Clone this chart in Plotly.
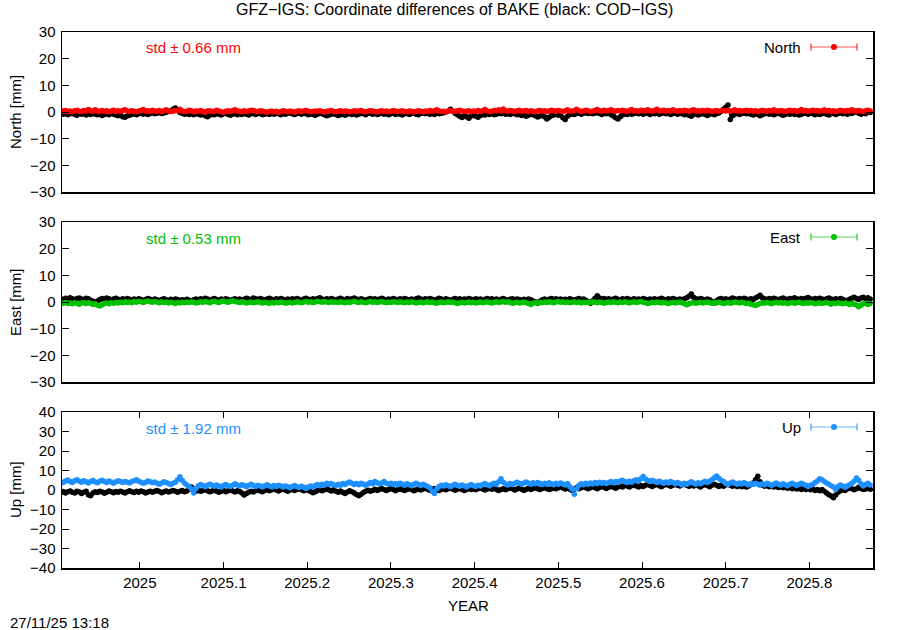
import pandas as pd
import plotly.graph_objects as go

# ---------------- data (mm), daily solutions starting 2024-11-27 ----------------
START_DATE = "2024-11-27"

north_gfz = [
 0.5,0.3,0.6,0.2,0.4,0.1,0.5,0.7,0.3,0.2,0.6,0.4,0.9,0.5,0.3,0.8,0.4,0.2,0.6,0.3,0.5,0.1,0.4,0.7,0.2,0.5,0.3,0.6,0.8,0.4,
 0.2,0.5,0.3,0.1,0.4,0.6,0.9,0.3,0.5,0.2,0.7,0.4,0.3,0.6,0.1,0.5,0.8,0.4,0.2,0.3,0.6,0.5,1.0,0.4,0.2,0.3,0.7,0.5,0.1,0.4,
 0.3,0.6,0.2,-0.1,0.4,0.5,0.2,0.3,0.7,0.4,0.1,-0.2,0.3,0.5,0.2,0.6,0.8,0.4,0.3,0.1,0.5,0.2,0.4,0.7,0.6,0.3,0.2,0.5,0.4,0.1,
 -0.1,0.2,0.4,0.1,0.3,-0.2,0.2,0.5,0.3,0.1,0.4,0.2,-0.1,0.3,0.5,0.2,0.4,0.6,0.3,0.1,0.2,0.4,0.3,0.5,0.2,0.0,0.3,0.4,0.6,0.2,
 0.1,0.3,0.5,0.2,0.4,0.3,0.1,0.2,0.5,0.3,0.4,0.6,0.2,0.1,0.3,0.5,0.4,0.2,0.0,0.3,0.5,0.2,0.4,0.1,0.3,0.6,0.4,0.2,0.3,0.5,
 0.2,0.1,0.4,0.3,0.0,0.2,0.5,0.3,0.1,0.4,0.2,0.6,0.3,0.5,0.8,0.4,0.2,0.3,0.1,0.4,0.6,0.3,0.2,0.5,0.7,0.4,0.2,0.3,0.5,0.1,
 0.4,0.2,0.6,0.3,0.5,0.9,0.4,0.2,0.3,0.6,0.5,0.8,0.4,1.1,0.5,0.3,0.6,0.4,0.2,0.5,0.7,0.3,0.4,0.6,0.2,0.5,0.3,0.1,0.4,0.6,
 0.3,0.5,0.2,0.4,0.7,0.5,0.3,0.6,0.4,0.2,0.5,0.8,0.4,0.3,0.6,1.0,0.5,0.3,0.4,0.7,0.5,0.2,0.4,0.6,0.9,0.5,0.3,0.7,0.4,0.6,
 0.8,0.5,0.3,0.6,0.4,0.7,0.5,0.2,0.6,0.9,0.4,0.5,0.3,0.7,0.6,0.4,0.8,0.5,0.3,0.6,1.0,0.4,0.5,0.7,0.3,0.6,0.4,0.8,0.5,0.3,
 0.6,0.4,0.7,0.5,0.3,0.6,0.8,0.4,0.5,0.3,0.6,0.4,0.7,0.5,0.2,0.4,0.6,0.3,0.5,0.7,0.4,0.6,0.3,0.5,0.8,0.4,0.6,0.3,0.5,0.7,
 0.4,0.6,0.3,0.5,0.2,0.4,0.7,0.5,0.3,0.6,0.4,0.8,0.5,0.3,0.6,0.4,0.2,0.5,0.7,0.4,0.6,0.3,0.5,0.9,0.4,0.6,0.3,0.5,0.7,0.4,
 0.6,0.3,0.5,0.8,0.4,0.6,0.3,0.5,0.2,0.4,0.7,0.5,0.3,0.6,0.4,0.8,0.5,0.3,0.6,0.4,0.2,0.5,0.7,0.4,
]
north_cod = [
 -0.5,-0.8,-0.6,-1.0,-0.7,-0.4,-0.9,-1.2,-0.6,-0.8,-0.5,-1.1,-0.7,-0.9,-0.4,-0.8,-1.0,-0.6,-1.3,-0.9,-0.7,-1.0,-0.5,-0.8,-1.1,-1.4,-1.0,-1.8,-2.0,-1.5,
 -1.2,-0.9,-0.6,-1.0,-0.7,-0.5,-0.8,-0.4,-0.9,-0.6,-0.3,-0.7,-0.5,-0.2,-0.6,-0.4,-0.1,0.2,0.5,1.0,1.5,0.6,-0.2,-0.5,-0.8,-0.6,-0.9,-0.7,-1.0,-0.6,
 -0.8,-1.1,-0.7,-1.4,-1.8,-1.2,-0.9,-1.0,-0.6,-0.8,-1.1,-0.7,-0.5,-0.9,-1.2,-0.8,-0.6,-1.0,-0.7,-0.9,-0.5,-0.8,-1.1,-0.7,-0.6,-0.9,-0.4,-0.7,-1.0,-0.8,
 -0.6,-0.9,-0.5,-0.8,-0.4,-0.7,-1.0,-0.6,-0.8,-0.5,-0.3,-0.7,-0.9,-0.6,-0.4,-0.8,-0.5,-0.7,-1.0,-0.6,-0.9,-1.2,-0.8,-0.5,-0.7,-1.0,-1.4,-1.1,-0.8,-0.6,
 -0.9,-1.3,-1.0,-0.7,-1.2,-0.8,-0.5,-0.9,-0.6,-1.1,-0.8,-0.5,-0.7,-1.0,-0.6,-0.4,-0.8,-0.5,-0.9,-0.7,-0.4,-0.8,-0.6,-1.0,-0.7,-0.5,-0.9,-0.6,-0.8,-1.1,
 -0.7,-0.5,-0.9,-0.6,-0.4,-0.8,-1.0,-0.6,-0.3,-0.7,-0.5,-0.8,-0.6,-0.9,-0.4,-0.7,-0.5,-0.3,0.0,0.4,1.0,0.3,-0.5,-1.0,-1.6,-2.1,-1.4,-1.8,-2.3,-1.5,
 -1.2,-1.6,-2.0,-1.3,-0.9,-1.1,-0.7,-0.9,-0.6,-1.0,-0.8,-0.5,-0.7,-0.4,-0.8,-0.6,-0.9,-0.5,-0.7,-1.0,-0.8,-1.3,-0.9,-1.6,-1.2,-0.8,-1.0,-1.4,-1.9,-1.5,
 -1.2,-1.8,-2.6,-2.0,-1.4,-1.1,-0.8,-1.2,-1.0,-2.2,-2.8,-1.6,-1.0,-0.7,-0.9,-0.6,-0.4,-0.8,-0.5,-0.3,-0.6,-0.4,-0.7,-0.5,-0.2,-0.6,-0.9,-0.5,-0.7,-0.4,
 -1.0,-1.5,-2.2,-2.6,-1.8,-1.1,-0.7,-0.9,-0.5,-0.8,-0.6,-0.3,-0.7,-0.5,-0.8,-0.4,-0.6,-0.9,-0.5,-0.7,-0.4,-0.8,-0.6,-0.3,-0.7,-0.5,-0.9,-0.6,-0.4,-0.8,
 -0.5,-0.7,-1.0,-0.6,-1.2,-1.6,-0.9,-0.7,-1.1,-0.8,-0.5,-0.9,-1.3,-0.8,-0.6,-1.0,-0.7,-0.4,0.2,1.0,1.8,2.6,-2.8,-1.4,-0.8,-0.5,-0.9,-0.6,-0.3,-0.7,
 -0.5,-0.8,-1.1,-0.6,-0.9,-1.4,-1.0,-0.7,-0.5,-0.8,-0.6,-1.0,-0.7,-0.4,-0.8,-1.2,-0.9,-0.6,-0.8,-0.5,-0.9,-0.7,-1.1,-0.8,-0.6,-0.4,-0.8,-0.5,-0.7,-1.0,
 -0.6,-0.9,-0.7,-0.4,-0.8,-1.1,-0.7,-0.5,-0.9,-0.6,-0.3,-0.7,-0.5,-0.8,-0.4,-0.6,-0.2,0.3,-0.5,-0.8,-0.4,-0.7,0.5,-0.2,
]
east_gfz = [
 -0.3,-0.5,-0.2,-0.6,-0.4,-0.7,-0.3,-0.5,-0.8,-0.4,-0.2,-0.6,-0.3,-0.5,-0.9,-0.7,-1.2,-1.5,-1.0,-0.6,-0.4,-0.7,-0.3,-0.5,-0.2,-0.4,-0.1,-0.3,0.1,-0.2,
 0.0,-0.3,0.2,-0.1,0.3,0.1,-0.2,0.2,0.4,0.1,-0.1,0.2,0.0,-0.3,0.1,-0.2,0.0,-0.4,-0.1,-0.3,-0.6,-0.2,-0.4,-0.1,-0.3,0.0,-0.2,0.1,-0.1,-0.4,
 -0.2,0.1,-0.1,0.2,0.0,-0.3,0.1,0.3,0.0,-0.2,0.2,0.4,0.1,-0.1,0.2,0.5,0.2,0.0,-0.2,0.1,-0.1,-0.4,-0.2,0.0,-0.3,-0.1,0.1,-0.2,-0.4,-0.1,
 -0.3,-0.5,-0.2,-0.4,-0.1,-0.3,0.0,-0.2,-0.5,-0.3,-0.1,-0.4,-0.2,0.1,-0.1,-0.3,0.0,0.2,-0.1,0.1,-0.2,0.0,0.3,0.1,-0.1,0.2,0.0,-0.2,0.1,-0.1,
 0.0,-0.2,0.1,-0.1,-0.3,0.0,-0.2,0.1,0.3,0.0,-0.2,0.1,-0.1,-0.3,0.0,0.2,-0.1,0.1,-0.2,0.0,0.2,-0.1,-0.3,0.0,-0.2,0.1,0.0,-0.2,0.1,-0.1,
 -0.3,0.0,-0.2,0.1,-0.1,-0.4,-0.2,0.0,-0.3,-0.1,0.1,-0.2,0.0,-0.3,-0.5,-0.2,0.0,-0.3,-0.1,0.1,-0.2,0.0,-0.3,-0.6,-0.3,-0.1,-0.4,-0.2,0.0,-0.3,
 -0.1,-0.4,-0.2,0.0,-0.3,-0.1,0.1,-0.2,-0.4,-0.1,0.1,-0.2,0.0,0.2,-0.1,0.1,-0.2,-0.5,-0.3,-0.1,-0.4,-0.2,0.0,-0.3,-0.6,-0.9,-0.5,-0.2,-0.4,-0.1,
 -0.3,0.0,-0.2,0.1,-0.1,-0.3,0.0,0.2,-0.1,0.1,-0.2,0.0,-0.3,-0.1,0.1,-0.2,0.0,-0.4,-0.1,-0.3,0.0,-0.2,0.1,-0.1,-0.3,0.0,-0.2,-0.5,-0.2,0.0,
 -0.2,0.1,-0.1,-0.3,0.0,-0.2,0.1,-0.1,-0.4,-0.1,0.1,-0.2,0.0,0.2,-0.1,-0.3,-0.6,-0.4,-0.1,-0.3,0.0,-0.2,-0.4,-0.1,-0.3,-0.6,-0.3,-0.1,-0.4,-0.2,
 0.0,-0.3,-0.6,-1.0,-0.7,-0.4,-0.2,-0.5,-0.3,-0.1,-0.4,-0.2,0.0,-0.3,-0.5,-0.2,-0.4,-0.1,-0.3,-0.6,-0.4,-0.2,-0.5,-0.3,0.0,-0.2,-0.4,-0.1,-0.3,-0.6,
 -0.4,-0.8,-1.0,-1.3,-0.9,-0.6,-0.3,-0.5,-0.2,-0.4,-0.7,-0.3,-0.1,-0.4,-0.2,-0.5,-0.3,-0.6,-0.4,-0.2,-0.5,-0.3,-0.1,-0.4,-0.6,-0.3,-0.5,-0.2,-0.4,-0.7,
 -0.5,-0.3,-0.6,-0.4,-0.2,-0.5,-0.8,-0.4,-0.6,-0.3,-0.5,-0.7,-0.4,-0.6,-0.9,-0.5,-0.8,-1.1,-1.8,-1.2,-0.7,-0.5,-0.9,-0.6,
]
east_cod = [
 1.2,0.9,1.4,1.0,1.6,1.2,0.8,1.3,1.5,1.1,0.9,1.4,1.2,0.7,0.3,-0.3,0.4,0.9,1.3,1.0,1.5,1.2,0.8,1.1,1.4,1.0,0.7,1.2,0.9,1.3,
 1.0,0.6,1.1,0.8,1.2,0.9,0.5,0.9,1.3,1.0,0.7,1.1,0.8,0.4,0.9,1.2,0.8,0.5,1.0,0.7,1.1,0.9,0.4,0.8,0.6,1.0,0.7,0.3,0.8,1.1,
 0.8,1.2,0.9,1.4,1.1,0.7,1.0,1.3,0.9,0.6,1.1,0.8,1.2,0.9,0.5,0.9,1.2,0.8,1.1,0.7,1.0,1.4,1.1,0.8,1.5,1.2,0.9,1.3,1.0,0.7,
 1.1,1.4,1.0,0.7,1.2,0.9,1.3,1.0,0.6,1.1,0.8,1.2,0.9,1.3,1.0,0.7,1.1,1.4,1.0,0.8,1.2,0.9,1.3,1.6,1.1,0.8,1.2,0.9,1.3,1.0,
 0.7,1.1,1.4,1.0,0.8,1.3,0.9,1.2,1.5,1.1,0.8,1.2,0.9,0.6,1.0,1.3,0.9,1.2,0.8,1.1,1.4,1.0,0.7,1.1,0.9,1.3,1.0,0.8,1.2,0.9,
 1.3,1.0,0.7,1.1,0.8,1.2,1.5,1.1,0.8,1.2,0.9,1.3,1.0,0.6,1.0,1.4,1.1,0.8,1.2,0.9,0.6,1.0,1.3,0.9,1.2,0.8,1.1,0.9,1.3,1.0,
 0.8,1.2,0.9,1.1,0.7,1.0,1.3,0.9,1.2,0.8,1.1,0.7,1.0,1.3,0.9,0.6,1.0,1.2,0.8,1.1,0.9,0.6,1.0,0.7,1.1,0.8,0.4,0.1,-0.5,0.3,
 0.8,1.1,0.7,1.0,1.3,0.9,1.2,0.8,1.1,0.7,1.0,0.8,1.2,0.9,0.6,1.0,1.3,0.9,1.1,0.7,0.2,-0.5,0.5,1.4,2.3,1.5,1.0,1.3,0.9,1.2,
 0.8,1.1,1.4,1.0,0.7,1.2,0.9,1.3,1.0,0.8,1.2,0.9,1.1,0.8,1.3,1.0,0.7,1.1,0.9,1.2,0.8,1.1,1.4,1.0,0.7,1.2,0.9,1.3,1.0,0.8,
 1.1,0.8,1.2,1.6,2.2,3.0,1.8,1.2,0.9,1.3,1.0,0.7,1.1,0.8,0.2,-0.4,0.5,1.0,1.3,0.9,1.2,0.8,1.1,1.5,1.2,0.9,1.3,1.0,1.4,1.1,
 0.8,1.2,0.9,1.5,2.0,2.5,1.6,1.2,0.9,1.3,1.0,1.4,1.1,0.8,1.2,1.5,1.1,0.9,1.3,1.0,1.6,1.2,0.9,1.3,1.0,1.4,1.7,1.2,0.9,1.3,
 1.0,1.4,1.1,0.8,1.2,1.5,1.1,0.8,1.2,0.9,1.3,1.0,0.7,0.4,1.0,1.4,1.8,1.3,0.9,1.5,1.8,1.2,1.6,1.1,
]
up_gfz = [
 4.2,3.8,4.6,5.1,4.4,3.9,4.8,5.3,4.5,4.0,4.7,4.2,3.6,4.4,4.9,4.1,3.7,4.5,5.0,4.3,3.8,4.6,4.1,3.5,4.2,4.8,4.3,3.9,4.4,4.0,
 3.6,4.3,4.8,5.2,4.5,4.0,3.4,3.9,4.6,4.2,3.7,4.1,3.5,3.0,3.6,4.2,3.8,3.3,2.8,3.5,4.0,5.2,6.8,5.0,3.4,2.6,1.8,0.5,-1.5,0.8,
 2.2,2.8,2.3,1.7,2.5,3.0,2.4,1.9,2.6,2.1,1.5,2.3,2.8,2.2,1.8,2.5,3.2,2.6,2.0,2.7,2.3,1.7,2.4,2.9,2.3,1.8,2.5,2.0,1.6,2.2,
 2.7,2.1,1.6,2.3,1.8,2.4,2.0,1.5,2.1,1.7,1.2,1.8,2.3,1.7,1.3,1.9,1.4,0.8,1.5,2.0,1.6,2.3,2.8,2.2,3.0,2.5,3.5,2.8,3.3,2.7,
 2.2,3.0,2.5,3.3,2.8,3.6,4.1,3.4,2.8,3.3,2.7,3.5,2.9,2.4,3.1,3.8,3.2,4.4,3.7,3.1,3.6,4.3,3.5,2.9,3.4,2.8,3.3,2.7,3.5,3.0,
 2.5,3.2,2.7,2.2,2.9,3.4,2.8,2.3,3.0,2.5,1.8,1.2,-0.6,-1.8,0.6,1.8,2.5,2.0,2.7,2.2,1.7,2.4,2.9,2.3,1.9,2.6,2.1,1.6,2.3,2.8,
 2.2,1.8,2.5,2.0,2.8,3.3,2.7,2.2,2.9,3.4,2.8,4.2,5.8,4.0,3.1,2.6,3.3,2.8,3.5,4.0,3.4,2.9,3.6,4.1,3.5,3.0,3.7,3.2,3.8,3.3,
 2.8,3.5,3.0,3.7,3.2,2.7,3.4,2.9,3.6,3.1,2.6,3.3,1.8,0.4,-2.2,0.6,2.4,3.2,2.7,3.4,2.9,3.6,3.1,3.8,3.3,4.0,3.4,3.9,3.3,3.8,
 4.3,3.7,4.4,3.9,4.6,5.0,4.4,3.9,4.5,4.0,4.7,5.2,4.6,5.8,6.9,5.6,4.9,4.3,5.0,4.4,3.8,4.5,4.0,3.4,4.1,3.6,4.3,3.8,3.2,3.9,
 3.3,2.6,3.4,2.9,3.6,4.2,3.6,3.0,3.7,3.2,3.9,4.5,3.8,4.5,5.3,6.2,7.2,6.0,5.0,4.3,3.5,2.8,3.6,4.1,3.4,2.9,3.6,3.1,3.8,3.2,
 2.6,3.3,2.8,3.5,3.0,2.4,3.2,2.7,3.4,2.9,2.3,3.0,3.6,3.0,2.5,3.2,2.7,2.2,2.9,3.4,2.8,2.3,3.0,3.5,2.9,2.4,1.8,2.5,3.0,3.8,
 4.6,5.8,5.2,4.4,3.6,2.9,2.2,1.5,0.3,1.8,2.6,2.0,1.4,2.1,2.7,3.4,4.5,6.1,5.0,3.2,2.1,2.8,3.4,2.6,
]
up_cod = [
 -1.2,-0.8,-1.5,-0.9,-0.5,-1.1,-1.6,-0.7,-1.0,-1.8,-1.2,-0.6,-2.4,-3.0,-1.5,-0.9,-1.3,-0.6,-1.0,-1.7,-1.1,-0.5,-0.9,-1.4,-0.8,-1.2,-0.6,-1.0,-1.5,-0.9,
 -0.4,-0.9,-1.3,-0.7,-1.1,-0.5,-0.9,-1.6,-1.0,-0.6,-1.2,-0.7,-0.3,-0.8,-1.4,-0.9,-0.5,-1.0,-0.6,-0.2,-0.7,-1.2,-0.6,-0.3,-0.9,-0.5,0.2,1.5,0.4,-0.6,
 -0.2,-0.7,-0.3,0.2,-0.4,-0.9,-0.5,0.0,-0.6,-1.2,-0.7,-0.3,-0.9,-0.4,0.1,-0.5,-1.0,-0.4,-0.8,-1.5,-2.6,-1.8,-1.2,-0.6,-1.0,-0.4,0.0,-0.5,-0.9,-0.3,
 0.2,-0.4,0.1,0.6,0.0,-0.5,0.1,0.5,-0.1,-0.6,0.0,0.4,-0.2,0.3,0.7,0.1,-0.4,0.2,-0.3,-0.8,-1.4,-0.9,-0.3,0.2,-0.4,0.1,0.6,0.0,-0.5,0.1,
 -0.6,-1.1,-0.5,-1.2,-1.8,-1.0,-0.4,-0.9,-1.5,-2.3,-3.0,-2.2,-1.3,-0.6,-0.1,-0.7,-0.2,0.4,-0.3,0.2,0.8,0.3,-0.3,0.3,0.9,0.2,-0.4,0.2,0.7,0.1,
 -0.3,0.3,0.8,0.2,-0.4,0.1,0.6,0.0,0.5,1.1,0.4,-0.2,0.3,0.8,0.2,-0.3,0.2,0.7,0.1,0.6,1.0,0.4,-0.1,0.4,0.9,0.3,-0.2,0.3,0.8,0.2,
 0.7,0.1,0.6,1.1,0.5,0.0,0.5,1.0,0.4,0.9,0.3,-0.3,0.2,0.7,0.1,0.6,1.2,0.6,0.0,0.5,1.1,0.4,-0.2,0.4,0.9,0.3,0.8,1.3,0.7,0.2,
 0.8,1.3,0.7,0.2,0.7,1.2,0.6,1.1,1.6,1.0,0.5,1.0,0.4,-0.2,0.5,1.1,0.6,1.2,1.7,1.1,0.6,1.2,1.8,1.2,0.7,1.3,1.9,1.3,0.8,1.4,
 2.0,1.4,0.9,1.5,2.1,1.5,2.6,2.0,1.5,2.2,2.8,2.1,1.6,2.3,1.8,2.5,3.0,2.3,1.8,2.4,2.9,2.2,1.7,2.4,3.0,2.4,1.9,2.5,3.1,2.5,
 2.0,2.7,3.2,2.5,1.9,2.6,2.1,2.8,2.2,1.6,2.3,2.9,2.3,1.7,2.4,3.0,2.4,1.8,2.5,1.9,2.6,3.1,2.5,1.9,2.4,1.8,2.3,1.7,2.2,1.6,
 2.1,2.8,3.6,5.2,7.0,4.2,2.6,1.9,2.4,1.7,2.2,1.5,2.0,1.3,1.8,1.1,1.6,0.9,1.4,0.7,1.2,0.5,1.0,0.3,0.9,0.2,0.8,0.1,0.6,-0.2,
 0.3,-0.4,0.2,-0.6,-1.5,-2.4,-3.1,-4.0,-2.6,-1.2,-0.4,0.3,-0.3,0.5,1.2,0.6,0.1,0.7,1.4,0.8,0.2,0.5,0.9,0.4,
]

components = ["North", "East", "Up"]
std_values = [0.66, 0.53, 1.92]
colors = ["#ff0000", "#00c000", "#1e90ff"]
y_ranges = [(-30, 30), (-30, 30), (-40, 40)]
x_tick_vals = [2025.0, 2025.1, 2025.2, 2025.3, 2025.4, 2025.5, 2025.6, 2025.7, 2025.8]
x_tick_text = ["2025", "2025.1", "2025.2", "2025.3", "2025.4", "2025.5", "2025.6", "2025.7", "2025.8"]
x_range = (2024.907, 2025.876)
title_text = "GFZ\u2212IGS: Coordinate differences of BAKE (black: COD\u2212IGS)"
timestamp = "27/11/25 13:18"


def decimal_years(n):
    d = pd.date_range(START_DATE, periods=n, freq="D")
    ndays = [366 if (y % 4 == 0 and (y % 100 != 0 or y % 400 == 0)) else 365 for y in d.year]
    return [y + (doy - 0.5) / nd for y, doy, nd in zip(d.year, d.dayofyear, ndays)]


gfz = [north_gfz, east_gfz, up_gfz]
cod = [north_cod, east_cod, up_cod]

# ---------------- layout geometry (screen pixels) ----------------
W, H = 900, 630
PLOT_L, PLOT_R, PLOT_T, PLOT_B = 62, 873, 32, 568   # plot area in screen pixels
L, T, R, B = PLOT_L, PLOT_T, W - PLOT_R, H - PLOT_B
PW, PH = PLOT_R - PLOT_L, PLOT_B - PLOT_T
panels_px = [(32, 192), (222, 382), (412, 568)]   # top, bottom screen rows


def px(xp):
    return (xp - PLOT_L) / PW


def py(yp):
    return (PLOT_B - yp) / PH


FONT = "Liberation Sans, Arial, Helvetica, sans-serif"
FS = 15

fig = go.Figure()
layout = dict(
    width=W, height=H, margin=dict(l=L, r=R, t=T, b=B, autoexpand=False),
    paper_bgcolor="white", plot_bgcolor="white", showlegend=False,
    font=dict(family=FONT, size=FS, color="black"),
)
annotations = []
shapes = []

for k in range(3):
    ax = "" if k == 0 else str(k + 1)
    xa, ya = "x" + ax, "y" + ax
    for vals, col in ((cod[k], "#000000"), (gfz[k], colors[k])):
        fig.add_trace(go.Scatter(
            x=decimal_years(len(vals)), y=vals, xaxis=xa, yaxis=ya,
            mode="lines+markers", line=dict(color=col, width=1),
            marker=dict(color=col, size=5.5, symbol="circle"),
            hoverinfo="skip", cliponaxis=True))
    top, bot = panels_px[k]
    dom = [py(bot), py(top)]
    last = k == 2
    layout["xaxis" + ax] = dict(
        domain=[0, 1], anchor=ya, range=list(x_range),
        showgrid=False, zeroline=False, showline=True, linecolor="black", linewidth=1.5,
        mirror="ticks" if last else True,
        ticks="inside" if last else "", ticklen=6, tickwidth=1, tickcolor="black",
        tickvals=x_tick_vals, ticktext=x_tick_text, showticklabels=last,
        matches=None if k == 0 else "x",
    )
    lo, hi = y_ranges[k]
    layout["yaxis" + ax] = dict(
        domain=dom, anchor=xa, range=[lo, hi],
        showgrid=False, zeroline=False, showline=True, linecolor="black", linewidth=1.5,
        mirror="ticks", ticks="inside", ticklen=7, tickwidth=1, tickcolor="black",
        tickvals=list(range(lo, hi + 1, 10)), ticklabelstandoff=2,
    )
    annotations.append(dict(
        text=f"{components[k]} [mm]", x=px(15), y=py((top + bot) / 2), xref="paper", yref="paper",
        textangle=-90, showarrow=False, xanchor="center", yanchor="middle",
        font=dict(size=FS)))
    annotations.append(dict(
        text=f"std \u00b1 {std_values[k]:.2f} mm", x=px(144), y=py(top + 16),
        xref="paper", yref="paper", showarrow=False, xanchor="left", yanchor="middle",
        font=dict(size=FS, color=colors[k])))
    ly = top + 15
    annotations.append(dict(
        text=components[k], x=px(803), y=py(ly), xref="paper", yref="paper",
        showarrow=False, xanchor="right", yanchor="middle", font=dict(size=FS)))
    x0, x1 = px(811), px(857)
    cap = 3.5 / PH
    shapes.append(dict(type="line", xref="paper", yref="paper", x0=x0, x1=x1, y0=py(ly), y1=py(ly),
                       line=dict(color=colors[k], width=1), opacity=0.65))
    for xc in (x0, x1):
        shapes.append(dict(type="line", xref="paper", yref="paper", x0=xc, x1=xc,
                           y0=py(ly) - cap, y1=py(ly) + cap,
                           line=dict(color=colors[k], width=1.5), opacity=0.65))
    r = 3
    shapes.append(dict(type="circle", xref="paper", yref="paper",
                       x0=px(834 - r), x1=px(834 + r), y0=py(ly + r), y1=py(ly - r),
                       fillcolor=colors[k], line=dict(color=colors[k], width=0)))

annotations.append(dict(text=title_text, x=px(454), y=py(10), xref="paper", yref="paper",
                        showarrow=False, xanchor="center", yanchor="middle", font=dict(size=16)))
annotations.append(dict(text="YEAR", x=px(468), y=py(605), xref="paper", yref="paper",
                        showarrow=False, xanchor="center", yanchor="middle", font=dict(size=FS)))
annotations.append(dict(text=timestamp, x=px(8), y=py(622), xref="paper", yref="paper",
                        showarrow=False, xanchor="left", yanchor="middle", font=dict(size=FS)))

layout["annotations"] = annotations
layout["shapes"] = shapes
fig.update_layout(**layout)
fig.write_html(
    "out.html",
    config={"displayModeBar": False, "staticPlot": True},
    post_script="document.body.style.margin='0px';document.body.style.overflow='hidden';",
)
